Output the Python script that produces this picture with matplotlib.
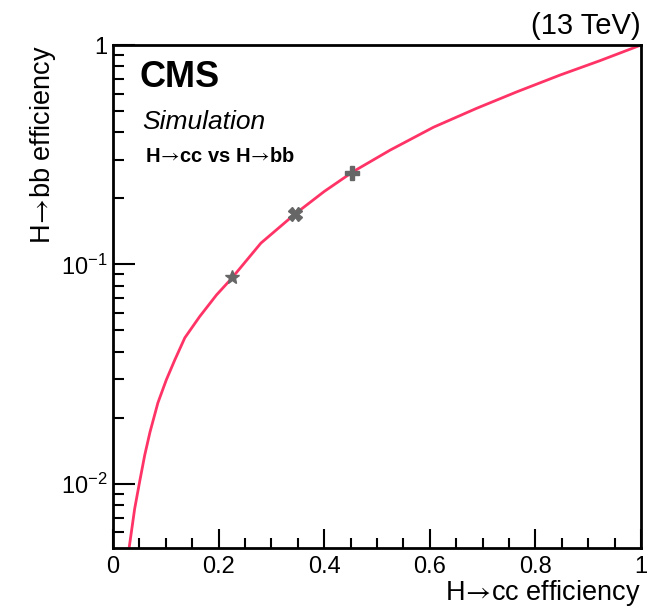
import matplotlib
matplotlib.use("Agg")
import matplotlib.pyplot as plt
from matplotlib.ticker import FixedLocator, LogLocator, NullFormatter, MultipleLocator

plt.rcParams["font.family"] = ["Liberation Sans", "DejaVu Sans"]
plt.rcParams["mathtext.fontset"] = "custom"
plt.rcParams["mathtext.rm"] = "Liberation Sans"
plt.rcParams["mathtext.it"] = "Liberation Sans:italic"
plt.rcParams["mathtext.bf"] = "Liberation Sans:bold"

# ROC curve: H->cc efficiency vs H->bb efficiency
eff_cc = [0.031, 0.041, 0.051, 0.060, 0.070, 0.085, 0.101, 0.117, 0.136, 0.164,
          0.196, 0.224, 0.28, 0.345, 0.40, 0.455, 0.525, 0.607, 0.689, 0.765,
          0.847, 0.922, 1.0]
eff_bb = [0.0052, 0.0077, 0.0104, 0.0135, 0.0172, 0.0234, 0.0298, 0.0367, 0.0463, 0.0578,
          0.0726, 0.0860, 0.125, 0.170, 0.215, 0.265, 0.332, 0.422, 0.515, 0.612,
          0.730, 0.848, 1.0]

# working points
wp_cc = [0.225, 0.345, 0.453]
wp_bb = [0.0877, 0.170, 0.261]
wp_markers = ["*", "X", "P"]

ARROW = r"$\!\rightarrow\!$"

fig = plt.figure(figsize=(6.66, 6.09), dpi=100)
ax = fig.add_axes([0.1697, 0.1002, 0.7928, 0.8259])

ax.plot(eff_cc, eff_bb, color="#ff3366", linewidth=2.0)
for x, y, m in zip(wp_cc, wp_bb, wp_markers):
    ax.plot(x, y, marker=m, color="#666666", markersize=10, linestyle="none", zorder=3)

ax.set_yscale("log")
ax.set_xlim(0, 1)
ax.set_ylim(0.0051, 1)

ax.xaxis.set_minor_locator(MultipleLocator(0.05))
ax.set_xticks([0, 0.2, 0.4, 0.6, 0.8, 1.0])
ax.set_xticklabels(["0", "0.2", "0.4", "0.6", "0.8", "1"])
ax.yaxis.set_major_locator(FixedLocator([0.01, 0.1, 1.0]))
ax.set_yticklabels([r"$10^{-2}$", r"$10^{-1}$", "1"])
ax.yaxis.set_minor_locator(LogLocator(base=10, subs=range(2, 10)))
ax.yaxis.set_minor_formatter(NullFormatter())

ax.tick_params(which="both", direction="in", top=False, right=False, width=1.5, labelsize=17)
ax.tick_params(axis="x", which="major", length=14, pad=6)
ax.tick_params(axis="x", which="minor", length=7)
ax.tick_params(axis="y", which="major", length=16, pad=4)
ax.tick_params(axis="y", which="minor", length=8)
for s in ax.spines.values():
    s.set_linewidth(2)

xl = ax.set_xlabel(f"H{ARROW}cc efficiency", fontsize=19.5, loc="right", labelpad=0)
yl = ax.set_ylabel(f"H{ARROW}bb efficiency", fontsize=19.5, loc="top", labelpad=2)
xl.set_math_fontfamily("stixsans")
yl.set_math_fontfamily("stixsans")

ax.text(0.05, 0.97, "CMS", transform=ax.transAxes, fontsize=26, fontweight="bold", va="top")
ax.text(0.055, 0.87, "Simulation", transform=ax.transAxes, fontsize=19, style="italic", va="top")
ax.text(0.06, 0.797, f"H{ARROW}cc vs H{ARROW}bb", transform=ax.transAxes,
        fontsize=14.5, fontweight="bold", va="top", math_fontfamily="stixsans")
ax.text(1.0, 1.01, "(13 TeV)", transform=ax.transAxes, fontsize=21, ha="right", va="bottom")

fig.savefig("out.png", dpi=100)
